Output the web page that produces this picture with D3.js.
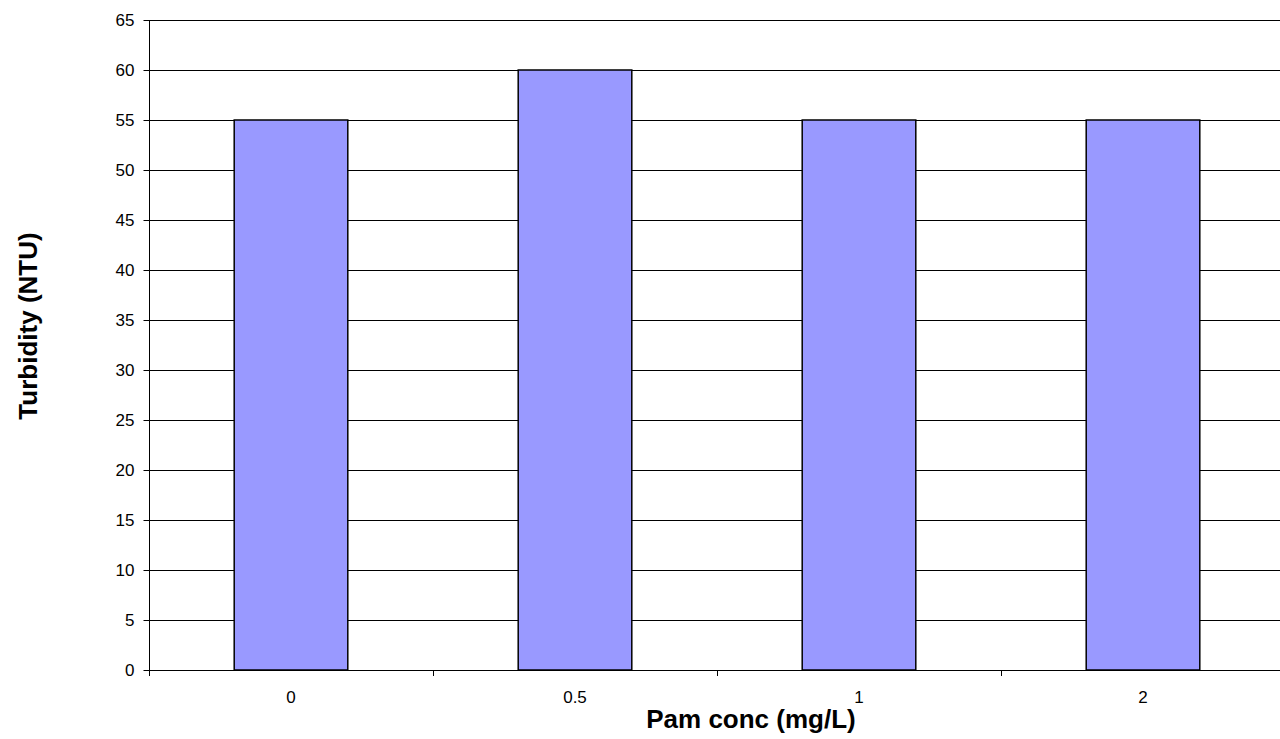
<!DOCTYPE html>
<html>
<head>
<meta charset="utf-8">
<script src="https://cdn.jsdelivr.net/npm/d3@7"></script>
<style>
  body { margin: 0; background: #fff; }
  svg { display: block; font-family: "Liberation Sans", Arial, sans-serif; }
</style>
</head>
<body>
<div id="chart"></div>
<script>
var width = 1280, height = 739;

var categories = ['0', '0.5', '1', '2'];
var turbidity = [55, 60, 55, 55];
var yTicks = [0, 5, 10, 15, 20, 25, 30, 35, 40, 45, 50, 55, 60, 65];

var plotLeft = 149, plotRight = 1285, plotTop = 20, plotBottom = 670;

var svg = d3.select('#chart')
  .append('svg')
  .attr('width', width)
  .attr('height', height);

var x = d3.scaleBand()
  .domain(categories)
  .range([plotLeft, plotRight]);

var y = d3.scaleLinear()
  .domain([0, 65])
  .range([plotBottom, plotTop]);

// gridlines
svg.append('g')
  .selectAll('line')
  .data(yTicks.filter(function(d) { return d > 0; }))
  .enter().append('line')
  .attr('x1', plotLeft)
  .attr('x2', plotRight)
  .attr('y1', function(d) { return Math.round(y(d)) + 0.5; })
  .attr('y2', function(d) { return Math.round(y(d)) + 0.5; })
  .attr('stroke', '#000')
  .attr('stroke-width', 1);

// bars
var barW = x.bandwidth() * 0.4;
svg.append('g')
  .selectAll('rect')
  .data(turbidity)
  .enter().append('rect')
  .attr('x', function(d, i) { return x(categories[i]) + (x.bandwidth() - barW) / 2; })
  .attr('y', function(d) { return y(d); })
  .attr('width', barW)
  .attr('height', function(d) { return y(0) - y(d); })
  .attr('fill', '#9999FF')
  .attr('stroke', '#000')
  .attr('stroke-width', 1.5);

// y axis
var yAxis = d3.axisLeft(y)
  .tickValues(yTicks)
  .tickSize(6)
  .tickPadding(9);
var gy = svg.append('g')
  .attr('transform', 'translate(' + (plotLeft + 0.5) + ',0)')
  .call(yAxis);
gy.select('.domain').attr('d', 'M0,' + y(65) + 'V' + y(0)).attr('stroke', '#000');
gy.selectAll('text').attr('font-size', 17).attr('fill', '#000')
  .attr('font-family', '"Liberation Sans", Arial, sans-serif');
gy.selectAll('.tick line').attr('stroke', '#000');

// x axis
svg.append('line')
  .attr('x1', plotLeft).attr('x2', plotRight)
  .attr('y1', plotBottom + 0.5).attr('y2', plotBottom + 0.5)
  .attr('stroke', '#000');

svg.append('g')
  .selectAll('line')
  .data(categories.concat(['end']))
  .enter().append('line')
  .attr('x1', function(d, i) { return Math.round(plotLeft + i * x.bandwidth()) + 0.5; })
  .attr('x2', function(d, i) { return Math.round(plotLeft + i * x.bandwidth()) + 0.5; })
  .attr('y1', plotBottom)
  .attr('y2', plotBottom + 6)
  .attr('stroke', '#000');

svg.append('g')
  .selectAll('text')
  .data(categories)
  .enter().append('text')
  .attr('x', function(d) { return x(d) + x.bandwidth() / 2; })
  .attr('y', 703)
  .attr('text-anchor', 'middle')
  .attr('font-size', 17)
  .text(function(d) { return d; });

// axis titles
svg.append('text')
  .attr('x', 751)
  .attr('y', 728)
  .attr('text-anchor', 'middle')
  .attr('font-size', 26)
  .attr('font-weight', 'bold')
  .text('Pam conc (mg/L)');

svg.append('text')
  .attr('transform', 'translate(37,326) rotate(-90)')
  .attr('text-anchor', 'middle')
  .attr('font-size', 26)
  .attr('font-weight', 'bold')
  .text('Turbidity (NTU)');
</script>
</body>
</html>
